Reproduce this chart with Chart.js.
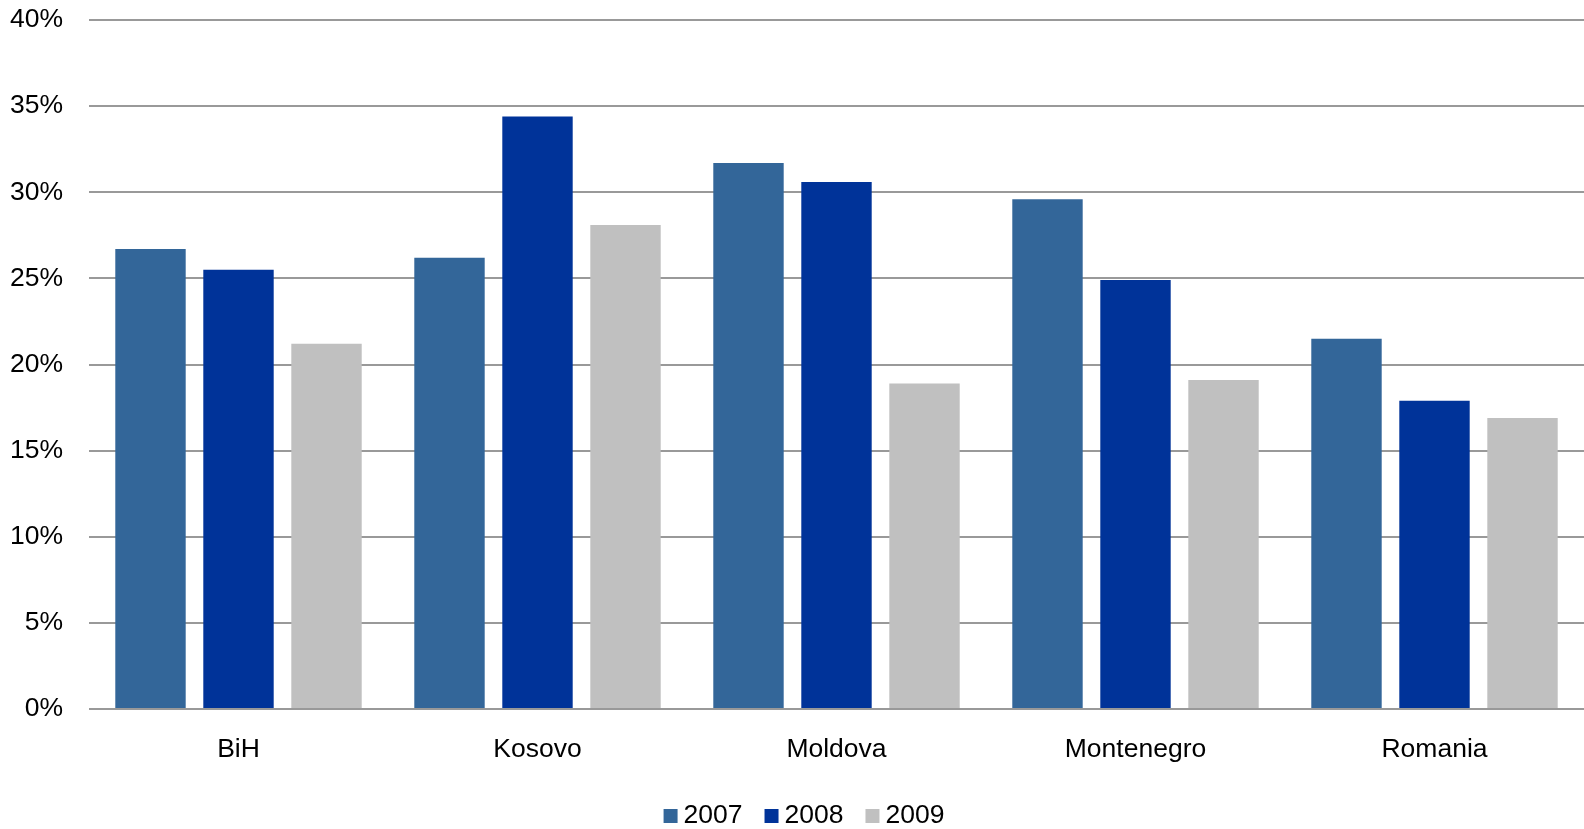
<!DOCTYPE html>
<html>
<head>
<meta charset="utf-8">
<script src="https://cdn.jsdelivr.net/npm/chart.js@4/dist/chart.umd.min.js"></script>
<style>
  html, body { margin:0; padding:0; background:#fff; }
  #wrap { width:1584px; height:829px; }
</style>
</head>
<body>
<div id="wrap"><canvas id="chart" width="1584" height="829"></canvas></div>
<script>
// data
const countries = ['BiH', 'Kosovo', 'Moldova', 'Montenegro', 'Romania'];
const years     = ['2007', '2008', '2009'];
const v2007 = [26.7, 26.2, 31.7, 29.6, 21.5];
const v2008 = [25.5, 34.4, 30.6, 24.9, 17.9];
const v2009 = [21.2, 28.1, 18.9, 19.1, 16.9];
const yTicks = [0, 5, 10, 15, 20, 25, 30, 35, 40];

const colors = ['#336699', '#003399', '#c0c0c0'];
const fontFamily = '"Liberation Sans", Arial, sans-serif';
const font = { family:fontFamily, size:26.5 };

// legend row under the x labels, built from the datasets
const bottomLegend = {
  id:'bottomLegend',
  afterDraw(chart) {
    const c = chart.ctx;
    const sets = chart.data.datasets;
    const box = 14, gap = 6, space = 22, cy = 816;
    c.save();
    c.font = `${font.size}px ${fontFamily}`;
    c.textBaseline = 'middle';
    c.textAlign = 'left';
    const widths = sets.map(s => c.measureText(s.label).width);
    const total = widths.reduce((a, w) => a + box + gap + w, 0) + space * (sets.length - 1);
    let x = 804 - total / 2;
    sets.forEach((s, i) => {
      c.fillStyle = s.backgroundColor;
      c.fillRect(x, cy - box / 2, box, box);
      c.fillStyle = '#000';
      c.fillText(s.label, x + box + gap, cy);
      x += box + gap + widths[i] + space;
    });
    c.restore();
  }
};

const ctx = document.getElementById('chart').getContext('2d');
new Chart(ctx, {
  type:'bar',
  data:{
    labels: countries,
    datasets: [v2007, v2008, v2009].map((d, i) => ({
      label: years[i], data: d,
      backgroundColor: colors[i], borderWidth: 0,
      barPercentage: 0.8, categoryPercentage: 0.883
    }))
  },
  options:{
    responsive:false,
    animation:false,
    layout:{ padding:{ left:0, right:0, top:20, bottom:0 } },
    scales:{
      x:{
        grid:{ display:false, drawTicks:false },
        border:{ display:false },
        ticks:{ color:'#000', font, padding:25, maxRotation:0 },
        afterFit: ax => { ax.height = 120; }
      },
      y:{
        min:0, max:40,
        afterBuildTicks: ax => { ax.ticks = yTicks.map(v => ({ value:v })); },
        grid:{ color:'#999', lineWidth:2, drawTicks:false },
        border:{ display:false },
        ticks:{ color:'#000', font, padding:26, callback: v => v + '%' },
        afterFit: ax => { ax.width = 89; ax.paddingTop = 0; ax.paddingBottom = 0; }
      }
    },
    plugins:{
      legend:{ display:false },
      tooltip:{ enabled:false }
    }
  },
  plugins:[bottomLegend]
});
</script>
</body>
</html>
